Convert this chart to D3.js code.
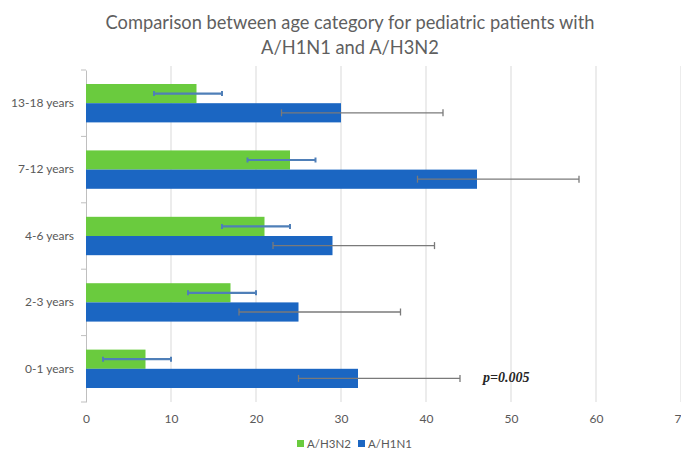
<!DOCTYPE html>
<html>
<head>
<meta charset="utf-8">
<script src="https://cdn.jsdelivr.net/npm/d3@7"></script>
<style>
  html, body { margin: 0; padding: 0; background: #fff; }
  svg { display: block; }
</style>
</head>
<body>
<svg id="chart" width="681" height="452"></svg>
<script>
// Age categories, top to bottom
const categories = ["13-18 years", "7-12 years", "4-6 years", "2-3 years", "0-1 years"];
const seriesNames = ["A/H3N2", "A/H1N1"];

// Bar values per category
const h3n2Values = [13, 24, 21, 17, 7];
const h1n1Values = [30, 46, 29, 25, 32];

// Error bar ranges (low / high)
const h3n2Low  = [8, 19, 16, 12, 2];
const h3n2High = [16, 27, 24, 20, 10];
const h1n1Low  = [23, 39, 22, 18, 25];
const h1n1High = [42, 58, 41, 37, 44];

const xTicks = [0, 10, 20, 30, 40, 50, 60, 70];
const titleLines = ["Comparison between age category for pediatric patients with", "A/H1N1 and A/H3N2"];
const pValueText = "p=0.005";

const colors = { "A/H3N2": "#6acb3e", "A/H1N1": "#1b66c2" };
const errColors = { "A/H3N2": "#4f7fb8", "A/H1N1": "#7a7a7a" };

const svg = d3.select("#chart");
const margin = { left: 86, top: 70, bottom: 402 };

const x = d3.scaleLinear().domain([0, 70]).range([margin.left, 681]);
const y = d3.scaleBand().domain(categories).range([margin.top, margin.bottom]).paddingInner(0).paddingOuter(0);
const inner = d3.scaleBand().domain(seriesNames).range([0, y.bandwidth()]).paddingOuter(0.73).paddingInner(0);

// Title
svg.append("g").selectAll("text").data(titleLines).join("text")
  .attr("x", 350).attr("y", (d, i) => 29 + i * 25)
  .attr("text-anchor", "middle")
  .attr("font-family", "Lato, 'Open Sans', sans-serif")
  .attr("font-size", 18.3)
  .attr("fill", "#5f5f5f")
  .text(d => d);

// Vertical gridlines
svg.append("g").selectAll("line").data(xTicks.slice(1)).join("line")
  .attr("x1", d => x(d)).attr("x2", d => x(d))
  .attr("y1", margin.top - 4).attr("y2", margin.bottom)
  .attr("stroke", "#d9d9d9").attr("stroke-width", 1);

// X axis labels (no axis line)
const xAxis = d3.axisBottom(x).tickValues(xTicks).tickSize(0).tickPadding(0);
const gx = svg.append("g").attr("transform", `translate(0,${margin.bottom + 12})`).call(xAxis);
gx.select(".domain").remove();
gx.selectAll("text")
  .attr("font-family", "Lato, 'Open Sans', sans-serif")
  .attr("font-size", 12)
  .attr("fill", "#595959");

// Y axis with category labels
const yAxis = d3.axisLeft(y).tickSize(0).tickPadding(12);
const gy = svg.append("g").attr("transform", `translate(${margin.left},0)`).call(yAxis);
gy.select(".domain").attr("stroke", "#bfbfbf");
gy.selectAll("text")
  .attr("font-family", "Lato, 'Open Sans', sans-serif")
  .attr("font-size", 12)
  .attr("fill", "#595959");
// Category separator ticks
svg.append("g").selectAll("line").data(d3.range(categories.length + 1)).join("line")
  .attr("x1", margin.left - 5).attr("x2", margin.left)
  .attr("y1", i => margin.top + i * y.bandwidth())
  .attr("y2", i => margin.top + i * y.bandwidth())
  .attr("stroke", "#bfbfbf");

// Bars
const rows = categories.map((c, i) => [
  { cat: c, s: "A/H3N2", v: h3n2Values[i], lo: h3n2Low[i], hi: h3n2High[i] },
  { cat: c, s: "A/H1N1", v: h1n1Values[i], lo: h1n1Low[i], hi: h1n1High[i] }
]).flat();

svg.append("g").selectAll("rect").data(rows).join("rect")
  .attr("x", x(0))
  .attr("y", d => y(d.cat) + inner(d.s))
  .attr("width", d => x(d.v) - x(0))
  .attr("height", inner.bandwidth())
  .attr("fill", d => colors[d.s]);

// Error bars
const eb = svg.append("g").selectAll("g").data(rows).join("g")
  .attr("transform", d => `translate(0,${y(d.cat) + inner(d.s) + inner.bandwidth() / 2})`);
eb.append("line")
  .attr("x1", d => x(d.lo)).attr("x2", d => x(d.hi))
  .attr("stroke", d => errColors[d.s])
  .attr("stroke-width", d => d.s === "A/H3N2" ? 2.2 : 1.3);
eb.selectAll("line.cap").data(d => [[d.lo, d.s], [d.hi, d.s]]).join("line")
  .attr("class", "cap")
  .attr("x1", d => x(d[0])).attr("x2", d => x(d[0]))
  .attr("y1", d => d[1] === "A/H3N2" ? -2.5 : -3.5)
  .attr("y2", d => d[1] === "A/H3N2" ? 2.5 : 3.5)
  .attr("stroke", d => errColors[d[1]])
  .attr("stroke-width", d => d[1] === "A/H3N2" ? 2 : 1.3);

// p-value annotation
svg.append("text")
  .attr("x", x(46.7)).attr("y", y("0-1 years") + 46)
  .attr("font-family", "'Liberation Serif', 'Times New Roman', serif")
  .attr("font-style", "italic").attr("font-weight", "bold")
  .attr("font-size", 14)
  .attr("fill", "#262626")
  .text(pValueText);

// Legend
const legend = svg.append("g").attr("transform", "translate(0,444)");
const legendX = [297, 358];
const lg = legend.selectAll("g").data(seriesNames).join("g")
  .attr("transform", (d, i) => `translate(${legendX[i]},0)`);
lg.append("rect").attr("x", 0).attr("y", -4).attr("width", 7).attr("height", 7)
  .attr("fill", d => colors[d]);
lg.append("text").attr("x", 10).attr("y", 4)
  .attr("font-family", "Lato, 'Open Sans', sans-serif")
  .attr("font-size", 11.5)
  .attr("fill", "#595959")
  .text(d => d);
</script>
</body>
</html>
